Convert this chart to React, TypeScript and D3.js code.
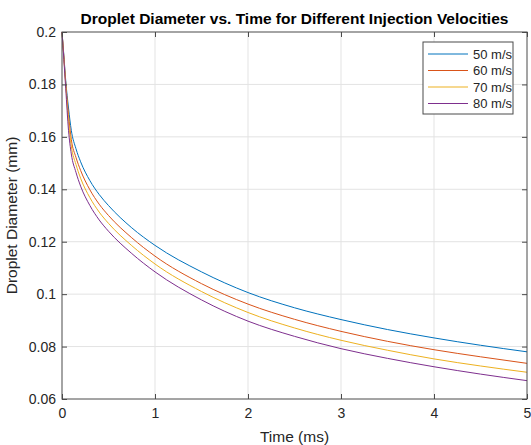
import React, { useRef, useEffect } from 'react';
import * as d3 from 'd3';

// time samples (ms)
const times = [0, 0.02, 0.04, 0.07, 0.1, 0.15, 0.2, 0.3, 0.4, 0.5, 0.75, 1, 1.5, 2, 2.5, 3, 3.5, 4, 4.5, 5];

// droplet diameter (mm)
const d50 = [0.2, 0.191, 0.1815, 0.171, 0.1625, 0.1555, 0.1505, 0.1433, 0.138, 0.1338, 0.1253, 0.1186, 0.1085, 0.1006, 0.0948, 0.0903, 0.0865, 0.0833, 0.0805, 0.078];
const d60 = [0.2, 0.1905, 0.1805, 0.1685, 0.159, 0.1522, 0.1472, 0.1398, 0.1343, 0.13, 0.1215, 0.1145, 0.104, 0.0962, 0.0904, 0.0858, 0.082, 0.0788, 0.0761, 0.0736];
const d70 = [0.2, 0.19, 0.18, 0.166, 0.1565, 0.1495, 0.1442, 0.1368, 0.1313, 0.127, 0.1185, 0.1115, 0.101, 0.093, 0.0871, 0.0824, 0.0786, 0.0753, 0.0726, 0.0702];
const d80 = [0.2, 0.1895, 0.1785, 0.1625, 0.1535, 0.1465, 0.1412, 0.1338, 0.1283, 0.124, 0.1155, 0.1085, 0.0978, 0.0897, 0.0839, 0.0792, 0.0755, 0.0723, 0.0695, 0.067];

const seriesLabels = ['50 m/s', '60 m/s', '70 m/s', '80 m/s'];
const seriesValues = [d50, d60, d70, d80];
const colors = ['#0072BD', '#D95319', '#EDB120', '#7E2F8E'];

const xTicks = [0, 1, 2, 3, 4, 5];
const yTicks = [0.06, 0.08, 0.1, 0.12, 0.14, 0.16, 0.18, 0.2];

const W = 531;
const H = 445;
const FONT = '"Liberation Sans", Arial, Helvetica, sans-serif';

const App = () => {
  const ref = useRef<SVGSVGElement | null>(null);

  useEffect(() => {
    const margin = { top: 32, right: 4, bottom: 46, left: 62 };
    const width = W - margin.left - margin.right;
    const height = H - margin.top - margin.bottom;

    const root = d3.select(ref.current);
    root.selectAll('*').remove();

    root.append('rect').attr('width', W).attr('height', H).attr('fill', '#ffffff');

    const svg = root.append('g').attr('transform', `translate(${margin.left}, ${margin.top})`);

    const x = d3.scaleLinear().domain([0, 5]).range([0, width]);
    const y = d3.scaleLinear().domain([0.06, 0.2]).range([height, 0]);

    // grid
    svg
      .append('g')
      .selectAll('line')
      .data(xTicks.slice(1, -1))
      .join('line')
      .attr('x1', (d) => x(d))
      .attr('x2', (d) => x(d))
      .attr('y1', 0)
      .attr('y2', height)
      .attr('stroke', '#e3e3e3');
    svg
      .append('g')
      .selectAll('line')
      .data(yTicks.slice(1, -1))
      .join('line')
      .attr('x1', 0)
      .attr('x2', width)
      .attr('y1', (d) => y(d))
      .attr('y2', (d) => y(d))
      .attr('stroke', '#e3e3e3');

    // curves
    const line = d3
      .line<number>()
      .curve(d3.curveMonotoneX)
      .x((_, i) => x(times[i]))
      .y((d) => y(d));

    seriesValues.forEach((vals, i) => {
      svg
        .append('path')
        .datum(vals)
        .attr('fill', 'none')
        .attr('stroke', colors[i])
        .attr('stroke-width', 1)
        .attr('d', line);
    });

    const axisColor = '#4a4a4a';
    const textColor = '#262626';

    // axes (inward ticks, box on)
    const styleAxis = (g) => {
      g.select('.domain').remove();
      g.selectAll('.tick line').attr('stroke', axisColor);
      g.selectAll('text').attr('fill', textColor).attr('font-family', FONT).attr('font-size', 14);
    };

    svg
      .append('g')
      .attr('transform', `translate(0, ${height})`)
      .call(d3.axisBottom(x).tickValues(xTicks).tickSizeInner(-5).tickSizeOuter(0).tickPadding(9).tickFormat(d3.format('d')))
      .call(styleAxis);
    svg
      .append('g')
      .call(d3.axisTop(x).tickValues(xTicks).tickSizeInner(-5).tickSizeOuter(0).tickFormat(() => ''))
      .call(styleAxis);
    svg
      .append('g')
      .call(d3.axisLeft(y).tickValues(yTicks).tickSizeInner(-5).tickSizeOuter(0).tickPadding(6).tickFormat((d) => String(+d)))
      .call(styleAxis);
    svg
      .append('g')
      .attr('transform', `translate(${width}, 0)`)
      .call(d3.axisRight(y).tickValues(yTicks).tickSizeInner(-5).tickSizeOuter(0).tickFormat(() => ''))
      .call(styleAxis);

    svg
      .append('rect')
      .attr('width', width)
      .attr('height', height)
      .attr('fill', 'none')
      .attr('stroke', axisColor)
      .attr('stroke-width', 1);

    // title & labels
    svg
      .append('text')
      .attr('x', width / 2)
      .attr('y', -8)
      .attr('text-anchor', 'middle')
      .attr('font-family', FONT)
      .attr('font-weight', 'bold')
      .attr('font-size', 15.5)
      .attr('fill', '#000')
      .text('Droplet Diameter vs. Time for Different Injection Velocities');

    svg
      .append('text')
      .attr('x', width / 2)
      .attr('y', height + 43)
      .attr('text-anchor', 'middle')
      .attr('font-family', FONT)
      .attr('font-size', 15.5)
      .attr('fill', textColor)
      .text('Time (ms)');

    svg
      .append('text')
      .attr('transform', `translate(${-45}, ${height / 2}) rotate(-90)`)
      .attr('text-anchor', 'middle')
      .attr('font-family', FONT)
      .attr('font-size', 15.5)
      .attr('fill', textColor)
      .text('Droplet Diameter (mm)');

    // legend
    const lg = svg.append('g').attr('transform', `translate(${width - 104}, 10)`);
    lg.append('rect')
      .attr('width', 90)
      .attr('height', 72)
      .attr('fill', '#ffffff')
      .attr('stroke', axisColor)
      .attr('stroke-width', 1);
    seriesLabels.forEach((lab, i) => {
      const yy = 12 + i * 16.5;
      lg.append('line')
        .attr('x1', 5)
        .attr('x2', 45)
        .attr('y1', yy)
        .attr('y2', yy)
        .attr('stroke', colors[i])
        .attr('stroke-width', 1);
      lg.append('text')
        .attr('x', 50)
        .attr('y', yy)
        .attr('dy', '0.35em')
        .attr('font-family', FONT)
        .attr('font-size', 13)
        .attr('fill', textColor)
        .text(lab);
    });
  }, []);

  return (
    <svg
      ref={ref}
      width={W}
      height={H}
      style={{ position: 'absolute', left: 0, top: 0, display: 'block' }}
    />
  );
};

export default App;
